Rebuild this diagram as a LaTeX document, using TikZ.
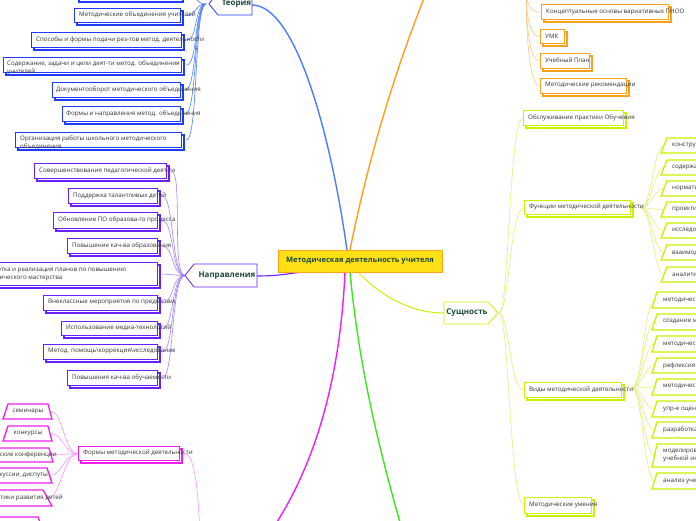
\documentclass[tikz,border=0pt]{standalone}
\usepackage{fontspec}
\setmainfont{Open Sans}
\usetikzlibrary{calc,backgrounds}
\definecolor{cblue}{HTML}{1F3BFF}
\definecolor{cbluel}{HTML}{4D7BFF}
\definecolor{cpurp}{HTML}{6B1FFF}
\definecolor{cpurpl}{HTML}{A580FF}
\definecolor{corng}{HTML}{FF9F1A}
\definecolor{corngl}{HTML}{FFC580}
\definecolor{clime}{HTML}{CCF000}
\definecolor{climel}{HTML}{E0F07A}
\definecolor{cmag}{HTML}{F01EF0}
\definecolor{cmagl}{HTML}{FF90FF}
\definecolor{cgreen}{HTML}{3CE61E}
\definecolor{ctitle}{HTML}{1E4A3C}
\definecolor{ccfill}{HTML}{FFE014}
\definecolor{ccbord}{HTML}{FFA31A}
\tikzset{
  txt/.style={font=\fontsize{6.2}{8}\selectfont, text=black!80, inner sep=0, anchor=west, align=left},
  ttl/.style={font=\bfseries\fontsize{8}{9}\selectfont, text=ctitle, inner sep=0},
  bx/.style={draw=#1, line width=1.3pt, fill=white, inner sep=0, anchor=north west},
  sh/.style={draw=#1, line width=1.3pt, fill=white},
  shp/.style={draw=#1, line width=1.3pt, fill=white},
  con/.style={draw=#1, line width=0.6pt},
  mainc/.style={draw=#1, line width=1.4pt},
}
\newcommand{\mybox}[6]{%
  \draw[sh=#2] ({(#3)+3},{(#4)+3}) rectangle ({(#5)+3},{(#6)+3});
  \node[bx=#2, minimum width={(#5)-(#3)}, minimum height={(#6)-(#4)}] (#1) at (#3,#4) {};}
\begin{document}
\begin{tikzpicture}[x=1pt,y=-1pt]
\useasboundingbox (0,0) rectangle (696,520);
\begin{scope}
\clip (0,0) rectangle (696,520);
% ---------- centre ----------
\node[draw=ccbord, fill=ccfill, line width=0.8pt, minimum width=164, minimum height=22, inner sep=0,
      font=\bfseries\fontsize{7.5}{9}\selectfont, text=ctitle, anchor=north west] (c) at (278,250) {};
\node[font=\bfseries\fontsize{7.5}{9}\selectfont, text=ctitle, inner sep=0] (ct) at (360,261) {Методическая деятельность учителя};
% ---------- titles ----------
\draw[draw=cblue, line width=0.8pt, fill=white] (218,-9) -- (252,-9) -- (252,15) -- (218,15) -- (209,4) -- cycle;
\node[ttl] (teo) at (236.5,4) {Теория};
\coordinate (teoA) at (206,4);
\coordinate (teoR) at (252,5);
\draw[draw=cpurp, line width=0.8pt, fill=white] (194,264) -- (257,264) -- (257,287) -- (194,287) -- (185,275.5) -- cycle;
\node[ttl] (nap) at (227,275.5) {Направления};
\coordinate (napA) at (185,275.5);
\coordinate (napR) at (257,276);
\draw[draw=clime, line width=0.8pt, fill=white] (444,302) -- (488,302) -- (498,313) -- (488,324) -- (444,324) -- cycle;
\node[ttl] (sus) at (467,313) {Сущность};
\coordinate (susA) at (499,313);
\coordinate (susL) at (444,313);
% ---------- Теория children ----------
\mybox{b0}{cblue}{76}{-14}{180}{-1}
\mybox{b1}{cblue}{74}{8}{180}{22}
\node[txt] (b1t) at (79,15) {Методические объединения учителей};
\mybox{b2}{cblue}{31}{32}{181}{47}
\node[txt] (b2t) at (36,40) {Способы и формы подачи рез-тов метод. деятельности};
\mybox{b3}{cblue}{3}{57}{181}{72}
\node[txt] (b3t) at (7,67.5) {Содержание, задачи и цели деят-ти метод. объединения\\учителей};
\mybox{b4}{cblue}{52}{82}{180}{97}
\node[txt] (b4t) at (56,89.5) {Документооборот методического объединения};
\mybox{b5}{cblue}{62}{106}{180}{121}
\node[txt] (b5t) at (66,113.5) {Формы и направления метод. объединения};
\mybox{b6}{cblue}{15}{132}{181}{147}
\node[txt] (b6t) at (20,142.5) {Организация работы школьного методического\\объединения};
% ---------- Направления children ----------
\mybox{p1}{cpurp}{34}{163}{166}{178}
\node[txt] (p1t) at (39,170.5) {Совершенствования педагогической деят-ти};
\mybox{p2}{cpurp}{68}{188}{157}{203}
\node[txt] (p2t) at (73,195.5) {Поддержка талантливых детей};
\mybox{p3}{cpurp}{53}{212}{157}{228}
\node[txt] (p3t) at (58,220) {Обновление ПО образова-го процесса};
\mybox{p4}{cpurp}{67}{238}{157}{253}
\node[txt] (p4t) at (72,245.5) {Повышение кач-ва образования};
\mybox{p5}{cpurp}{-30}{262}{157}{285}
\node[txt] (p5t) at (-24,273.5) {Разработка и реализация планов по повышению\\педагогического мастерства};
\mybox{p6}{cpurp}{43}{295}{157}{310}
\node[txt] (p6t) at (48,302.5) {Внеклассные мероприятия по предметам};
\mybox{p7}{cpurp}{61}{321}{157}{335}
\node[txt] (p7t) at (66,328) {Использование медиа-технологий};
\mybox{p8}{cpurp}{43}{344}{157}{359}
\node[txt] (p8t) at (48,351.5) {Метод. помощь\textbackslash коррекция\textbackslash исследование};
\mybox{p9}{cpurp}{67}{370}{157}{385}
\node[txt] (p9t) at (72,377.5) {Повышения кач-ва обучаемости};
% ---------- magenta ----------
\mybox{f}{cmag}{78}{446}{179}{460}
\node[txt] (ft) at (83,453) {Формы методической деятельности};
\draw[shp=cmag] (8,404) -- (48,404) -- (52,419) -- (3,419) -- cycle;
\node[txt, anchor=center] (m1) at (28,411.5) {семинары};
\coordinate (m1r) at (51,411.5);
\draw[shp=cmag] (8,426) -- (48,426) -- (52,441) -- (3,441) -- cycle;
\node[txt, anchor=center] (m2) at (28,433.5) {конкурсы};
\coordinate (m2r) at (51,433.5);
\draw[shp=cmag] (-80,448) -- (49,448) -- (53,462) -- (-85,462) -- cycle;
\node[txt, anchor=east] (m3) at (57,455) {научно-практические конференции};
\coordinate (m3r) at (51,455);
\draw[shp=cmag] (-80,468) -- (47,468) -- (52,483) -- (-85,483) -- cycle;
\node[txt, anchor=east] (m4) at (48,475.5) {дискуссии, диспуты};
\coordinate (m4r) at (50,475.5);
\draw[shp=cmag] (-80,490) -- (43,490) -- (52,506) -- (-85,506) -- cycle;
\node[txt, anchor=east] (m5) at (63,498) {диагностики развития детей};
\coordinate (m5r) at (48,498);
\draw[shp=cmag] (-80,517) -- (38,517) -- (45,535) -- (-85,535) -- cycle;
% ---------- orange ----------
\mybox{o1}{corng}{541}{4}{668}{19}
\node[txt] (o1t) at (546,12) {Концептуальные основы вариативных ПНОО};
\mybox{o2}{corng}{540}{29}{564}{43}
\node[txt] (o2t) at (545,36) {УМК};
\mybox{o3}{corng}{540}{53}{589}{68}
\node[txt] (o3t) at (545,60.5) {Учебный План};
\mybox{o4}{corng}{540}{78}{626}{93}
\node[txt] (o4t) at (545,85.5) {Методические рекомендации};
\coordinate (oA) at (526,-20);
% ---------- lime ----------
\mybox{s1}{clime}{523}{110}{623}{125}
\node[txt] (s1t) at (528,117.5) {Обслуживание практики Обучения};
\mybox{s2}{clime}{524}{200}{630}{214}
\node[txt] (s2t) at (529,207) {Функции методической деятельности};
\mybox{s3}{clime}{524}{382}{621}{397}
\node[txt] (s3t) at (529,389.5) {Виды методической деятельности};
\mybox{s4}{clime}{524}{497}{591}{513}
\node[txt] (s4t) at (529,505) {Методические умения};
\coordinate (fA) at (641,208);
\coordinate (vA) at (632,388);
\foreach \t/\b/\s [count=\i] in {138/153/конструктивная, 160/175/содержательная, 181/196/нормативная,
   202/217/проективная, 223/238/исследовательская, 245/260/взаимодействие, 267/282/аналитическая}{
  \draw[shp=clime] (667,\t) -- (720,\t) -- (714,\b) -- (661,\b) -- cycle;
  \node[txt] (fn\i) at (672,{(\t+\b)/2}) {\s};
  \coordinate (fc\i) at (664,{(\t+\b)/2});
}
\foreach \t/\b/\s [count=\i] in {292/308/{методическая работа}, 314/330/{создание методических материалов},
   336/352/{методическое обеспечение}, 358/373/{рефлексия деятельности}, 379/395/{методическое сопровождение},
   401/417/{упр-е  оценочной деятельностью}, 422/438/{разработка программ},
   444/467/{моделирование\\учебной информации}, 473/489/{анализ учебного процесса}}{
  \draw[shp=clime] (657,\t) -- (720,\t) -- (714,\b) -- (652,\b) -- cycle;
  \node[txt] (vd\i) at (663,{(\t+\b)/2}) {\s};
  \coordinate (vc\i) at (654.5,{(\t+\b)/2});
}
\end{scope}
% ---------- connectors ----------
\begin{scope}[on background layer]
\draw[mainc=cbluel] (teoR) .. controls (295,5) and (330,130) .. (347,250);
\draw[mainc=corng] (350,250) .. controls (372,140) and (405,40) .. (440,-40);
\draw[mainc=cpurp, line width=1.1pt] (napR) .. controls (280,276) and (292,273) .. (303,272);
\draw[mainc=clime, line width=1pt] (358,272) .. controls (385,300) and (415,313) .. (susL);
\draw[mainc=cmag] (345,272) .. controls (340,380) and (315,470) .. (265,540);
\draw[mainc=cgreen] (350,272) .. controls (360,380) and (385,470) .. (405,540);
\foreach \n in {b0,b1,b2,b3,b4,b5,b6}
  \draw[con=cbluel] (teoA) .. controls +(-12,0) and +(12,0) .. ([xshift=4pt]\n.east);
\foreach \n in {p1,p2,p3,p4,p5,p6,p7,p8,p9}
  \draw[con=cpurpl] (napA) .. controls +(-14,0) and +(12,0) .. ([xshift=4pt]\n.east);
\foreach \n in {m1r,m2r,m3r,m4r,m5r}
  \draw[con=cmagl] (f.west) .. controls +(-14,0) and +(12,0) .. (\n);
\draw[con=cmagl] ([xshift=4pt]f.east) .. controls +(12,0) and +(-2,-30) .. (200,530);
\foreach \n in {s1,s2,s3,s4}
  \draw[con=climel] (susA) .. controls +(10,0) and +(-14,0) .. (\n.west);
\foreach \i in {1,...,7}
  \draw[con=climel] (fA) .. controls +(10,0) and +(-10,0) .. (fc\i);
\foreach \i in {1,...,9}
  \draw[con=climel] (vA) .. controls +(10,0) and +(-10,0) .. (vc\i);
\foreach \n in {o1,o2,o3,o4}
  \draw[con=corngl] (oA) .. controls +(0,20) and +(-14,0) .. (\n.west);
\end{scope}
\end{tikzpicture}
\end{document}
